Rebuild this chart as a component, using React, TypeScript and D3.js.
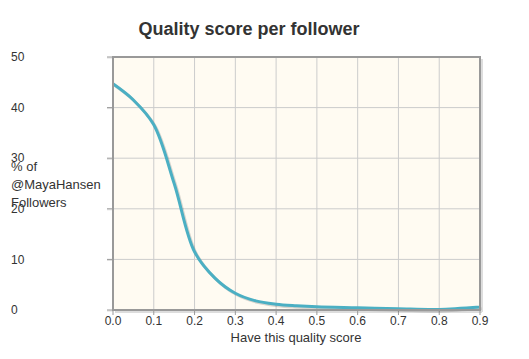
import React from "react";
import * as d3 from "d3";

const scores = [0, 0.05, 0.1, 0.15, 0.2, 0.25, 0.3, 0.35, 0.4, 0.45, 0.5, 0.6, 0.7, 0.8, 0.9];
const percents = [44.7, 41.5, 36.6, 25.0, 11.5, 6.3, 3.3, 1.8, 1.15, 0.85, 0.65, 0.45, 0.25, 0.12, 0.6];
const xTicks = [0, 0.1, 0.2, 0.3, 0.4, 0.5, 0.6, 0.7, 0.8, 0.9];
const yTicks = [0, 10, 20, 30, 40, 50];
const title = "Quality score per follower";
const xTitle = "Have this quality score";
const yTitleLines = ["% of", "@MayaHansen", "Followers"];

const W = 529, H = 359;
const L = 113, R = 480, T = 57, B = 310;

export default function App() {
  const x = d3.scaleLinear().domain([0, 0.9]).range([L, R]);
  const y = d3.scaleLinear().domain([0, 50]).range([B, T]);
  const data = scores.map((s, i) => [s, percents[i]] as [number, number]);
  const line = d3.line<[number, number]>().x(d => x(d[0])).y(d => y(d[1])).curve(d3.curveCatmullRom.alpha(0.5));
  const path = line(data) || "";
  const font = "Arial, 'Liberation Sans', sans-serif";
  return (
    <svg width={W} height={H} style={{ position: "absolute", left: 0, top: 0 }} fontFamily={font}>
      <rect x={0} y={0} width={W} height={H} fill="#fff" />
      <text x={249} y={35} textAnchor="middle" fontSize={18} fontWeight="bold" fill="#333">{title}</text>
      <rect x={L} y={T} width={R - L} height={B - T} fill="#fffbf2" />
      {xTicks.slice(1, -1).map(t => (
        <line key={"gx" + t} x1={x(t)} x2={x(t)} y1={T} y2={B} stroke="#ccc" strokeWidth={1} />
      ))}
      {yTicks.slice(1, -1).map(t => (
        <line key={"gy" + t} x1={L} x2={R} y1={y(t)} y2={y(t)} stroke="#ccc" strokeWidth={1} />
      ))}
      <line x1={R + 2} x2={R + 2} y1={T + 2} y2={B + 2} stroke="#ddd" strokeWidth={2} />
      <line x1={L + 2} x2={R + 2} y1={B + 2} y2={B + 2} stroke="#ddd" strokeWidth={2} />
      {yTicks.map(t => (
        <g key={"yt" + t}>
          <line x1={L - 6} x2={L} y1={y(t) + 1} y2={y(t) + 1} stroke="#ddd" strokeWidth={1} />
          <line x1={L - 6} x2={L} y1={y(t)} y2={y(t)} stroke="#999" strokeWidth={1} />
        </g>
      ))}
      {xTicks.map(t => (
        <line key={"xt" + t} x1={x(t)} x2={x(t)} y1={B} y2={B + 5} stroke="#999" strokeWidth={1} />
      ))}
      <path d={path} fill="none" stroke="rgba(0,0,0,0.15)" strokeWidth={3} transform="translate(1.5,1.5)" />
      <path d={path} fill="none" stroke="#4bafc3" strokeWidth={3} strokeLinejoin="round" />
      <rect x={L} y={T} width={R - L} height={B - T} fill="none" stroke="#999" strokeWidth={2} />
      {yTicks.map(t => (
        <text key={"yl" + t} x={11} y={y(t)} dy="0.35em" fontSize={12} fill="#333">{t}</text>
      ))}
      {xTicks.map(t => (
        <text key={"xl" + t} x={x(t)} y={324.5} textAnchor="middle" fontSize={12} fill="#333">{d3.format(".1f")(t)}</text>
      ))}
      <text x={296} y={342} textAnchor="middle" fontSize={13} fill="#333">{xTitle}</text>
      {yTitleLines.map((s, i) => (
        <text key={"ytl" + i} x={11} y={170.5 + i * 18} fontSize={13} fill="#333">{s}</text>
      ))}
    </svg>
  );
}
